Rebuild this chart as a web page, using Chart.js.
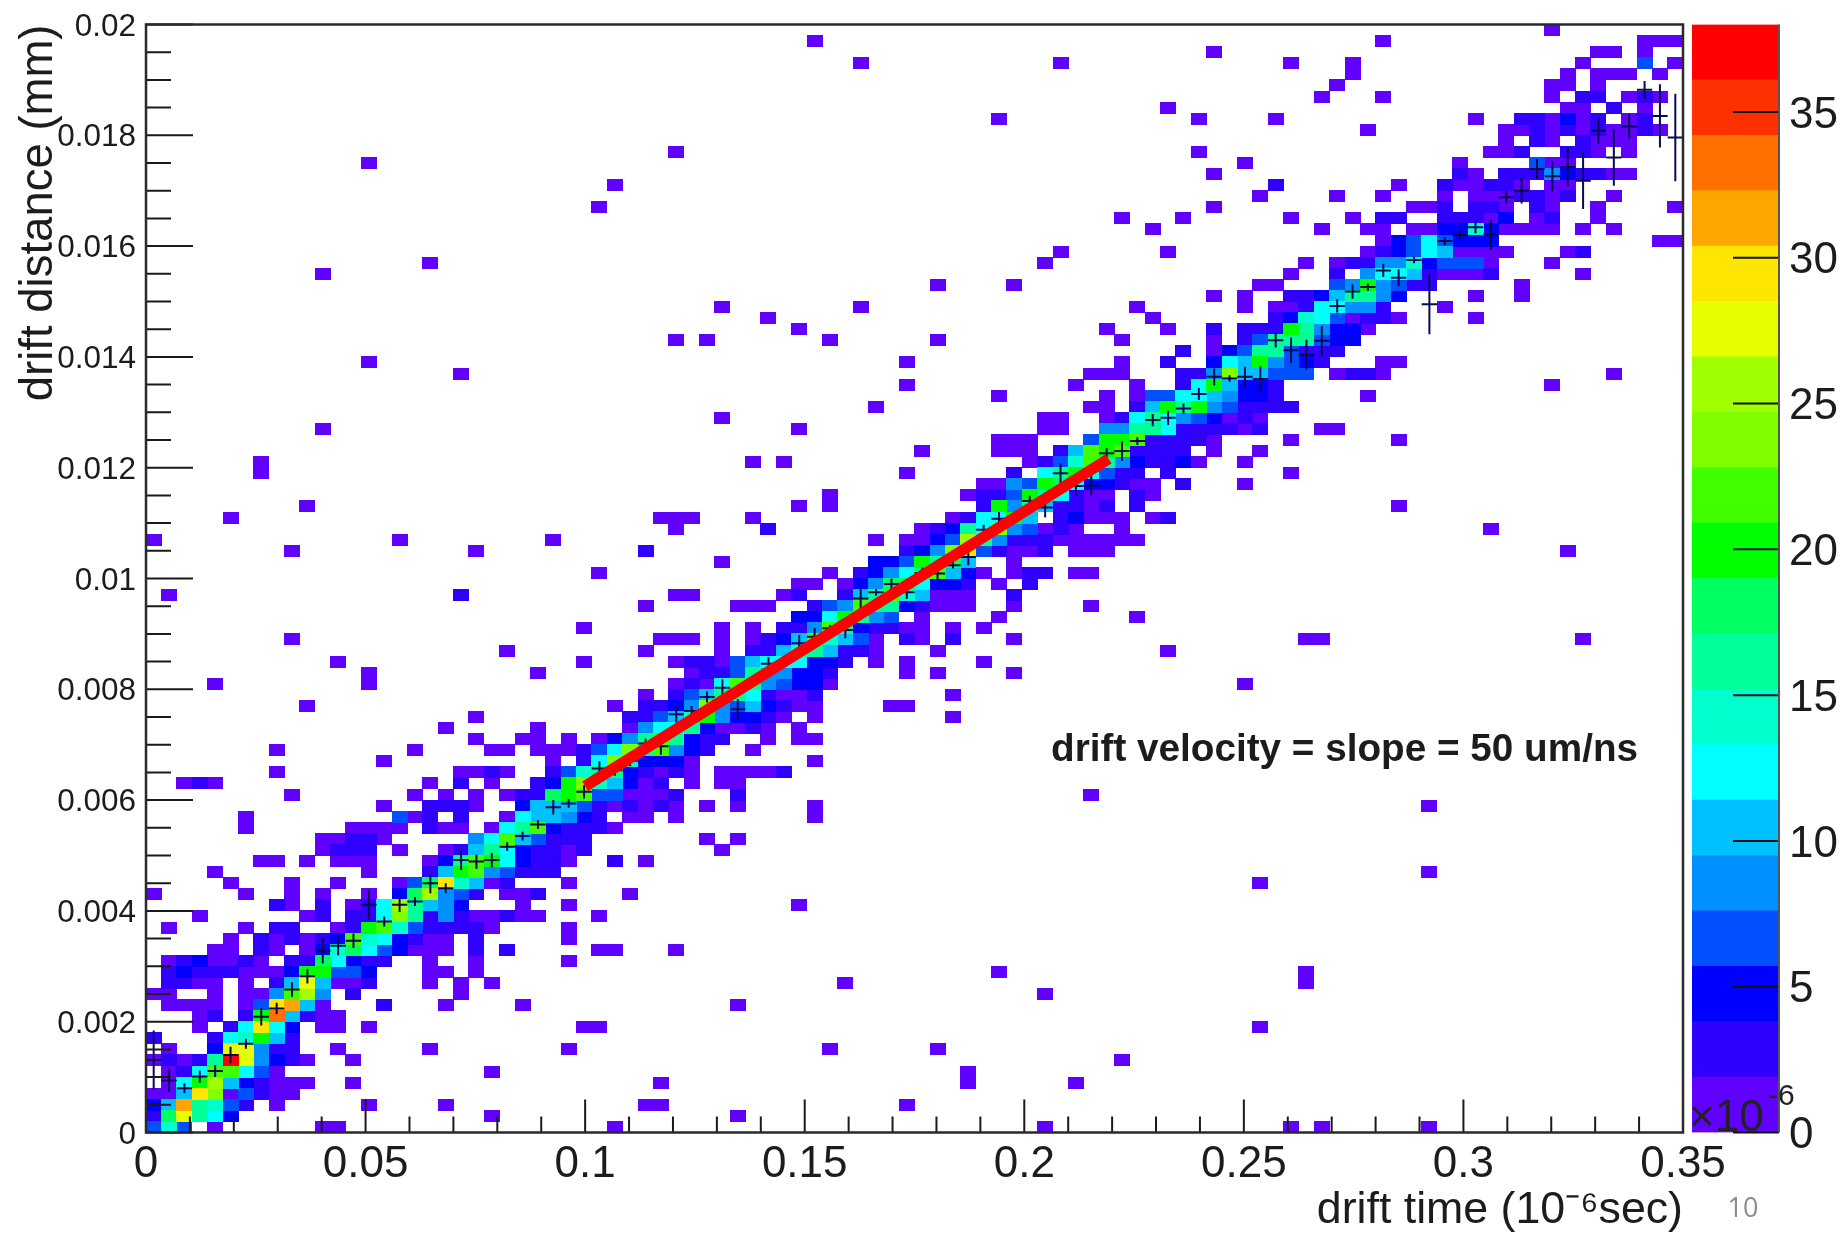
<!DOCTYPE html>
<html>
<head>
<meta charset="utf-8">
<title>drift velocity</title>
<script src="https://cdn.jsdelivr.net/npm/chart.js@4/dist/chart.umd.min.js"></script>
<style>
  html, body { margin: 0; padding: 0; background: #fff; width: 1846px; height: 1237px; overflow: hidden; }
  canvas { position: absolute; top: 0; filter: blur(0.5px); }
  #main { left: 0; }
  #bar { left: 1680px; }
  #pageNo { position: absolute; left: 1723px; top: 1188px; width: 40px; text-align: center;
            font: 27px "Open Sans"; color: #8c8c8c; }
</style>
</head>
<body>
<canvas id="main" width="1846" height="1237"></canvas>
<canvas id="bar" width="166" height="1237"></canvas>
<div id="pageNo">10</div>
<script>
// axis ticks and labels
const xTicks = [0, 0.05, 0.1, 0.15, 0.2, 0.25, 0.3, 0.35];
const xTickLabels = ['0', '0.05', '0.1', '0.15', '0.2', '0.25', '0.3', '0.35'];
const yTicks = [0, 0.002, 0.004, 0.006, 0.008, 0.01, 0.012, 0.014, 0.016, 0.018, 0.02];
const yTickLabels = ['0', '0.002', '0.004', '0.006', '0.008', '0.01', '0.012', '0.014', '0.016', '0.018', '0.02'];
const barTicks = [0, 5, 10, 15, 20, 25, 30, 35];

// 100 x 100 bins
const xBinWidth = 0.0035;
const yBinWidth = 0.0002;

// contour colours, lowest first. One contour is 1.9 counts.
const palette = ['#6000ff', '#3000ff', '#0000ff', '#0050ff', '#0090ff', '#00c0ff', '#00ffff', '#00ffcc', '#00ff99', '#00ff60',
                 '#00ff00', '#40ff00', '#80ff00', '#a0ff00', '#e6ff00', '#ffe600', '#ffa500', '#ff7000', '#ff3000', '#ff0000'];
const contourStep = 1.9;

// filled bins: [row, col, contour, col, contour, ...]
const rows0to24 = [
  [0, 0,3, 1,7, 2,3, 4,0, 11,0, 12,0, 30,0, 58,0, 74,0, 76,0, 83,0],
  [1, 0,1, 1,9, 2,14, 3,8, 4,6, 5,2, 22,0, 38,0],
  [2, 0,2, 1,5, 2,16, 3,8, 4,7, 5,3, 6,1, 8,0, 14,0, 19,0, 32,0, 33,0, 49,0],
  [3, 0,0, 1,0, 2,5, 3,15, 4,12, 5,0, 6,3, 7,1, 8,0, 9,0],
  [4, 1,0, 2,6, 3,10, 4,13, 5,5, 6,2, 7,1, 8,0, 9,0, 10,0, 13,0, 33,0, 53,0, 60,0],
  [5, 1,0, 2,1, 3,6, 4,11, 5,11, 6,6, 7,3, 8,0, 22,0, 53,0],
  [6, 0,0, 1,1, 2,0, 3,1, 4,8, 5,19, 6,14, 7,4, 8,2, 9,1, 10,0, 13,0, 63,0],
  [7, 1,0, 4,2, 5,14, 6,14, 7,4, 8,1, 9,1, 12,0, 18,0, 27,0, 44,0, 51,0],
  [8, 0,1, 4,1, 5,6, 6,7, 7,10, 8,5, 9,1],
  [9, 3,0, 5,1, 6,6, 7,15, 8,6, 9,2, 11,0, 12,0, 14,0, 28,0, 29,0, 72,0],
  [10, 3,0, 4,1, 6,1, 7,10, 8,17, 9,5, 10,1, 11,0, 12,0],
  [11, 1,0, 2,0, 3,0, 4,0, 6,0, 7,3, 8,15, 9,16, 10,5, 11,0, 15,1, 19,0, 24,0, 38,0],
  [12, 0,0, 1,0, 4,0, 6,0, 7,0, 8,4, 9,11, 10,13, 11,4, 13,1, 20,0, 58,0],
  [13, 1,1, 2,1, 3,0, 4,0, 6,0, 8,1, 9,5, 10,14, 11,5, 12,0, 13,0, 14,1, 18,0, 20,0, 22,0, 45,0, 75,0],
  [14, 1,1, 2,2, 3,1, 4,1, 5,1, 6,0, 7,0, 8,0, 9,2, 10,10, 11,10, 12,3, 13,3, 14,2, 18,0, 19,0, 21,0, 55,0, 75,0],
  [15, 1,0, 2,1, 3,2, 4,0, 5,0, 6,1, 7,0, 9,1, 10,1, 11,9, 12,6, 13,2, 14,1, 15,1, 18,0, 21,0, 27,0],
  [16, 4,0, 5,0, 7,1, 8,0, 10,0, 11,2, 12,7, 13,9, 14,6, 15,3, 16,2, 17,0, 18,0, 19,0, 21,1, 23,1, 29,0, 30,0, 34,0],
  [17, 5,0, 7,1, 8,0, 9,1, 10,0, 11,1, 12,2, 13,11, 14,7, 15,6, 16,2, 17,1, 18,0, 19,0, 21,1, 27,0],
  [18, 1,0, 6,0, 8,1, 9,1, 12,0, 13,1, 14,10, 15,11, 16,7, 17,3, 18,1, 19,1, 20,1, 21,1, 22,0, 27,0],
  [19, 3,0, 10,0, 11,1, 13,1, 14,1, 15,6, 16,12, 17,8, 18,1, 19,4, 20,1, 21,0, 22,0, 23,1, 24,0, 25,0, 29,0],
  [20, 8,1, 9,0, 11,1, 13,0, 14,1, 15,6, 16,13, 17,8, 18,5, 19,4, 20,2, 24,0, 27,0, 42,0],
  [21, 0,0, 6,0, 9,0, 11,0, 14,0, 16,2, 17,9, 18,13, 19,4, 20,3, 21,1, 23,0, 24,0, 25,1, 31,0],
  [22, 5,0, 9,0, 12,0, 16,0, 17,3, 18,9, 19,15, 20,7, 21,5, 22,0, 23,1, 27,0, 72,0],
  [23, 4,0, 14,0, 18,1, 19,5, 20,10, 21,11, 22,4, 23,3, 24,1, 25,1, 26,1, 83,0],
  [24, 7,0, 8,0, 10,0, 12,0, 13,0, 14,0, 18,0, 19,2, 20,8, 21,11, 22,10, 23,6, 24,2, 25,1, 26,1, 27,0, 30,1, 32,0]
];
const rows25to49 = [
  [25, 11,0, 12,1, 13,1, 14,1, 16,0, 19,0, 20,1, 21,5, 22,8, 23,6, 24,2, 25,1, 26,1, 27,0, 28,1, 37,0],
  [26, 11,0, 12,0, 13,1, 14,1, 15,0, 21,4, 22,6, 23,11, 24,5, 25,3, 26,1, 27,1, 28,1, 36,0, 38,0],
  [27, 6,0, 13,0, 14,0, 15,0, 16,0, 18,1, 19,0, 20,0, 22,0, 23,6, 24,8, 25,11, 26,2, 27,1, 28,1, 29,1, 30,0],
  [28, 6,0, 16,3, 17,0, 18,1, 20,1, 23,0, 24,6, 25,5, 26,5, 27,4, 28,2, 29,1, 31,0, 32,0, 34,0, 43,0],
  [29, 15,0, 18,1, 19,1, 20,1, 21,0, 24,2, 25,5, 26,5, 27,5, 28,3, 29,1, 30,0, 31,1, 32,0, 33,1, 34,0, 36,0, 38,0, 43,0, 83,0],
  [30, 9,0, 17,0, 19,0, 21,0, 23,0, 24,1, 25,1, 26,9, 27,10, 28,11, 29,3, 30,3, 31,0, 32,0, 33,0, 34,1, 38,1, 61,0],
  [31, 2,0, 3,1, 4,0, 18,0, 20,1, 22,0, 25,1, 26,2, 27,10, 28,12, 29,7, 30,5, 31,2, 32,0, 33,1, 35,0, 37,0, 38,0],
  [32, 8,0, 20,0, 21,0, 22,1, 23,0, 26,1, 27,3, 28,7, 29,8, 30,8, 31,2, 32,1, 33,0, 34,1, 35,0, 37,0, 38,0, 39,0, 40,0, 41,1],
  [33, 15,0, 26,0, 28,1, 29,6, 30,12, 31,7, 32,2, 33,2, 34,2, 35,0, 43,0],
  [34, 8,0, 17,0, 22,0, 23,0, 25,0, 26,0, 27,0, 28,1, 29,3, 30,6, 31,12, 32,8, 33,11, 34,4, 35,2, 36,1, 39,0],
  [35, 21,0, 24,0, 25,0, 27,0, 29,0, 30,2, 31,4, 32,8, 33,11, 34,8, 35,2, 36,1, 37,1, 40,0, 42,0, 43,0],
  [36, 19,0, 25,0, 31,0, 32,4, 33,6, 34,6, 35,8, 36,2, 37,0, 38,0, 39,1, 40,0, 42,0],
  [37, 21,0, 31,1, 32,1, 33,3, 34,5, 35,7, 36,10, 37,4, 38,2, 39,2, 40,1, 41,0, 43,0, 52,0],
  [38, 10,0, 30,0, 32,1, 33,1, 34,2, 35,4, 36,12, 37,4, 38,3, 39,5, 40,2, 41,1, 42,0, 43,0, 48,0, 49,0],
  [39, 32,0, 34,1, 35,3, 36,5, 37,8, 38,8, 39,6, 40,1, 41,0, 42,0, 43,1, 52,0],
  [40, 4,0, 14,0, 34,0, 35,1, 36,0, 37,6, 38,11, 39,8, 40,4, 41,3, 42,2, 43,2, 44,0, 71,0],
  [41, 14,0, 25,0, 35,0, 36,1, 37,1, 38,3, 39,8, 40,4, 41,4, 42,2, 43,2, 44,1, 49,0, 51,0, 56,0],
  [42, 12,0, 28,0, 34,0, 35,1, 36,1, 37,0, 38,3, 39,5, 40,6, 41,6, 42,6, 43,2, 44,2, 45,1, 47,0, 49,0, 54,0],
  [43, 23,0, 32,0, 37,0, 39,1, 40,1, 41,5, 42,7, 43,8, 44,5, 45,1, 46,1, 47,0, 51,0, 66,0],
  [44, 9,0, 33,0, 34,0, 35,0, 37,0, 39,0, 40,1, 41,2, 42,5, 43,11, 44,7, 45,5, 46,3, 47,0, 49,1, 50,0, 52,1, 56,0, 75,0, 76,0, 93,0],
  [45, 28,0, 37,0, 39,0, 41,1, 42,1, 43,4, 44,11, 45,8, 46,2, 47,1, 48,1, 49,0, 50,0, 52,0, 54,0],
  [46, 42,2, 43,2, 44,6, 45,10, 46,8, 47,4, 48,3, 50,0, 55,0, 64,0],
  [47, 32,0, 38,0, 39,0, 40,0, 43,1, 44,3, 45,4, 46,11, 47,8, 48,8, 49,2, 50,1, 51,0, 52,0, 53,0, 56,0, 61,0],
  [48, 1,0, 20,1, 34,0, 35,0, 41,0, 42,1, 45,1, 46,5, 47,8, 48,11, 49,7, 50,5, 51,0, 52,0, 53,0, 56,1],
  [49, 42,0, 43,0, 45,0, 46,2, 47,4, 48,9, 49,9, 50,6, 51,2, 52,2, 53,1, 55,0, 57,1]
];
const rows50to74 = [
  [50, 29,0, 44,0, 46,1, 47,2, 48,4, 49,6, 50,8, 51,11, 52,5, 53,2, 54,0, 56,0, 57,1, 58,1, 60,0, 61,0],
  [51, 37,0, 47,2, 48,2, 49,3, 50,10, 51,8, 52,9, 53,5, 56,0],
  [52, 9,0, 21,0, 32,1, 49,1, 50,2, 51,4, 52,12, 53,15, 54,3, 55,1, 56,0, 57,0, 58,1, 60,0, 61,0, 62,0, 92,0],
  [53, 0,0, 16,0, 26,0, 47,0, 49,0, 50,0, 51,2, 52,3, 53,13, 54,8, 55,4, 56,1, 57,1, 58,1, 59,0, 60,0, 61,0, 62,0, 63,0, 64,0],
  [54, 34,0, 40,1, 50,0, 51,1, 52,2, 53,8, 54,6, 55,12, 56,4, 57,3, 58,0, 59,1, 60,0, 63,0, 87,0],
  [55, 5,0, 33,0, 34,0, 35,0, 39,0, 52,0, 53,1, 54,6, 55,6, 56,10, 57,5, 59,1, 60,2, 61,0, 62,0, 63,0, 65,0, 66,1],
  [56, 10,0, 42,0, 44,0, 54,1, 55,10, 56,4, 57,8, 58,5, 59,1, 60,1, 61,0, 62,1, 64,1, 81,0],
  [57, 44,0, 53,0, 54,1, 55,1, 56,3, 57,10, 58,8, 59,6, 60,1, 61,0, 62,0, 64,1, 65,0],
  [58, 54,0, 55,0, 56,4, 57,3, 58,10, 59,9, 60,6, 61,2, 62,2, 63,1, 64,0, 65,0, 67,1, 71,0],
  [59, 7,0, 49,0, 56,1, 58,6, 59,8, 60,10, 61,6, 62,3, 63,1, 64,1, 66,1, 74,0],
  [60, 7,0, 39,0, 41,0, 57,0, 58,1, 59,3, 60,7, 61,11, 62,8, 63,4, 64,2, 65,1, 66,1, 67,2, 68,0, 71,0],
  [61, 50,0, 55,0, 56,0, 57,0, 59,1, 60,5, 61,11, 62,10, 63,11, 64,1, 65,1, 66,1, 67,1, 69,0, 72,0],
  [62, 55,0, 56,0, 57,0, 61,3, 62,10, 63,10, 64,11, 65,1, 66,1, 67,1, 68,1, 69,0, 74,0, 81,0],
  [63, 11,0, 42,0, 58,0, 59,0, 62,4, 63,4, 64,8, 65,8, 66,6, 67,1, 68,1, 69,1, 70,1, 71,0, 72,1, 76,0, 77,0],
  [64, 37,0, 58,0, 59,0, 62,0, 63,1, 64,6, 65,8, 66,6, 67,4, 68,3, 69,2, 70,0, 71,1, 72,0],
  [65, 47,0, 61,0, 62,0, 64,1, 65,5, 66,10, 67,8, 68,10, 69,4, 70,3, 71,1, 72,1, 73,1, 74,1],
  [66, 55,0, 62,0, 64,0, 65,3, 66,3, 67,6, 68,6, 69,5, 70,4, 71,2, 72,2, 73,1, 79,0],
  [67, 49,0, 60,0, 64,0, 67,1, 68,6, 69,10, 70,5, 71,2, 72,2, 73,1, 91,0],
  [68, 20,0, 61,0, 62,0, 63,0, 67,1, 68,1, 69,4, 70,12, 71,5, 72,5, 73,3, 74,3, 75,3, 77,0, 78,1, 79,1, 80,0, 95,0],
  [69, 14,0, 49,0, 63,0, 66,1, 69,2, 70,6, 71,5, 72,10, 73,4, 74,3, 75,2, 76,1, 80,0, 81,0],
  [70, 67,1, 69,0, 70,2, 71,3, 72,8, 73,8, 74,3, 75,1, 76,1, 77,1],
  [71, 34,0, 36,0, 44,0, 51,0, 63,0, 69,0, 71,1, 72,3, 73,8, 74,8, 75,8, 76,3, 77,2, 78,2],
  [72, 42,0, 62,0, 66,0, 69,1, 71,1, 72,1, 73,1, 74,10, 75,8, 76,4, 77,2, 78,2, 79,0],
  [73, 40,0, 65,0, 73,1, 74,2, 75,7, 76,6, 77,3, 78,0, 79,1, 80,1, 81,0, 86,0],
  [74, 37,0, 46,0, 64,0, 71,0, 73,0, 74,0, 75,1, 76,6, 77,6, 78,4, 79,4, 80,1, 84,0]
];
const rows75to99 = [
  [75, 69,0, 71,0, 74,1, 75,1, 76,2, 77,5, 78,8, 79,8, 80,4, 81,2, 86,0, 89,0],
  [76, 51,0, 56,0, 72,0, 73,0, 77,3, 78,4, 79,10, 80,4, 81,3, 82,1, 83,1, 89,0],
  [77, 11,0, 74,0, 77,1, 79,4, 80,6, 81,6, 82,5, 83,1, 84,0, 85,0, 86,0, 87,1, 93,0],
  [78, 18,0, 58,0, 75,0, 77,0, 78,1, 79,1, 80,4, 81,4, 82,7, 83,2, 84,3, 85,3, 86,3, 87,0, 91,0],
  [79, 59,0, 66,0, 79,0, 80,1, 81,2, 82,3, 83,6, 84,5, 85,0, 86,0, 87,0, 88,0, 92,0, 93,1],
  [80, 80,0, 81,2, 82,3, 83,6, 84,3, 85,2, 86,2, 87,2, 98,0, 99,0],
  [81, 65,0, 76,0, 79,0, 80,0, 82,0, 83,0, 84,2, 85,2, 86,7, 87,2, 88,0, 89,0, 90,0, 91,0, 93,0, 95,0],
  [82, 63,0, 67,0, 74,0, 78,0, 80,1, 81,1, 84,1, 85,1, 86,1, 87,0, 88,2, 90,0, 91,1, 94,0],
  [83, 29,0, 69,0, 82,0, 83,0, 84,1, 86,1, 87,1, 88,0, 90,1, 91,0, 94,0, 99,0],
  [84, 72,0, 77,0, 80,0, 84,0, 86,0, 87,0, 88,0, 89,1, 90,1, 91,0, 92,1, 95,0],
  [85, 30,0, 73,1, 81,0, 84,1, 85,0, 86,0, 87,1, 88,1, 89,0, 91,0, 92,0],
  [86, 69,0, 85,1, 86,0, 88,1, 89,1, 90,1, 91,4, 92,2, 93,1, 94,1, 95,0, 96,0],
  [87, 14,0, 71,0, 85,0, 90,3, 91,0, 92,0],
  [88, 34,0, 68,0, 87,0, 88,0, 89,1, 92,1, 93,1, 94,0, 96,0],
  [89, 88,0, 90,1, 91,0, 93,1, 94,0, 95,0, 96,0],
  [90, 79,0, 88,0, 89,0, 90,1, 91,0, 92,1, 93,0, 94,1, 95,0, 96,0, 97,1, 98,0],
  [91, 55,0, 68,0, 73,0, 86,0, 89,1, 90,1, 91,0, 92,2, 93,0, 94,1, 96,0, 97,1],
  [92, 66,0, 92,0, 93,0, 95,1, 97,0],
  [93, 76,0, 80,0, 91,0, 93,1, 94,1, 96,0, 97,1, 98,0],
  [94, 77,0, 91,0, 92,0, 94,0],
  [95, 78,0, 92,0, 94,0, 95,0, 96,0, 98,0],
  [96, 46,0, 59,0, 74,0, 78,0, 93,0, 97,3, 99,0],
  [97, 69,0, 94,0, 95,0, 97,0],
  [98, 43,0, 80,0, 97,0, 98,0, 99,0],
  [99, 91,0]
];

// profile of the histogram, one value per column
const profileMeans = [
  0.00131, 0.00094, 0.0008, 0.00101, 0.00111, 0.0014, 0.0016, 0.00209, 0.00224, 0.00258,
  0.00282, 0.00328, 0.00337, 0.00346, 0.00411, 0.00381, 0.00411, 0.00417, 0.0045, 0.00441,
  0.00492, 0.00489, 0.00492, 0.00516, 0.00535, 0.00556, 0.00587, 0.00594, 0.00615, 0.00657,
  0.00654, 0.00671, 0.00702, 0.00697, 0.00755, 0.00761, 0.00786, 0.00803, 0.00764, 0.00815,
  0.00846, 0.0085, 0.00883, 0.00895, 0.0091, 0.00907, 0.00964, 0.00975, 0.0099, 0.00975,
  0.0101, 0.01009, 0.01024, 0.01039, 0.01088, 0.01108, 0.0111, 0.0114, 0.01128, 0.0119,
  0.01167, 0.01168, 0.01226, 0.0123, 0.01248, 0.01286, 0.0129, 0.01307, 0.01333, 0.01364,
  0.01361, 0.01364, 0.0136, 0.0143, 0.01412, 0.01404, 0.01429, 0.01492, 0.01518, 0.01526,
  0.01556, 0.01543, 0.01575, 0.01495, 0.01609, 0.0162, 0.01634, 0.01621, 0.01688, 0.017,
  0.01739, 0.01726, 0.01743, 0.01718, 0.01808, 0.0176, 0.01816, 0.01882, 0.01835, 0.01796
];
const profileErrors = [
  0.00053, 0.00021, 0.00009, 0.00011, 0.00011, 0.00015, 0.00009, 0.00016, 0.0001, 0.00013,
  0.00013, 0.00023, 0.00017, 0.00013, 0.00027, 0.00009, 0.00013, 0.00008, 0.00018, 0.00009,
  0.00018, 0.00013, 0.00013, 0.00008, 0.00008, 0.00008, 0.00013, 0.00008, 0.00012, 0.00013,
  0.0001, 0.0001, 0.00009, 0.00015, 0.00015, 0.00009, 0.0001, 0.00015, 0.00018, 0.0001,
  0.00012, 0.0001, 0.00015, 0.00015, 0.00006, 0.00015, 0.00018, 0.00006, 0.0001, 0.00012,
  0.0001, 0.00012, 0.00006, 0.00015, 0.00009, 0.00012, 0.0001, 0.0001, 0.00018, 0.00018,
  0.00017, 0.00018, 0.00009, 0.00018, 0.00007, 0.00011, 0.00013, 0.00009, 0.00011, 0.00015,
  0.00006, 0.00018, 0.00023, 0.00013, 0.00023, 0.00027, 0.00027, 0.00012, 0.00013, 0.00007,
  0.00012, 0.00015, 0.00006, 0.00054, 0.00007, 0.00009, 0.00011, 0.00027, 0.00011, 0.00023,
  0.00018, 0.00027, 0.00035, 0.00051, 0.00023, 0.00051, 0.00022, 0.00016, 0.00057, 0.00079
];

// straight line fit
const fitTimes = [0.1, 0.2192];
const fitDistances = [0.00625, 0.01216];

const annotationText = 'drift velocity = slope = 50 um/ns';

const FONT = '"Liberation Sans"';
const TEXT_COLOR = '#1c1c1c';

function makeCell(color) {
    const c = document.createElement('canvas');
    c.width = 16;
    c.height = 12;
    const g = c.getContext('2d');
    g.fillStyle = color;
    g.fillRect(0, 0, 16, 12);
    return c;
}

// canvas "middle" sits a bit above the digit centres, push the labels down
function nudgeLabels(scale, dy) {
    if (scale.nudged) return;
    scale.nudged = true;
    const drawLabels = scale.drawLabels;
    scale.drawLabels = function (area) {
        this.ctx.save();
        this.ctx.translate(0, dy);
        drawLabels.call(this, area);
        this.ctx.restore();
    };
}

// one point list per contour
const contourPoints = palette.map(() => []);
[...rows0to24, ...rows25to49, ...rows50to74, ...rows75to99].forEach(r => {
    for (let i = 1; i < r.length; i += 2) {
        contourPoints[r[i + 1]].push({ x: (r[i] + 0.5) * xBinWidth, y: (r[0] + 0.5) * yBinWidth });
    }
});

const cellDatasets = palette.map((color, level) => ({
    type: 'scatter',
    label: 'contour' + level,
    data: contourPoints[level],
    pointStyle: makeCell(color),
    pointRadius: 8,
    order: 100 - level
}));

const rootStyle = {
    id: 'rootStyle',
    // crosses go under the red line, so they are drawn right after their own dataset
    afterDatasetDraw(chart, args) {
        if (chart.data.datasets[args.index].label !== 'profile') return;
        const { ctx, scales: { x, y } } = chart;
        ctx.save();
        ctx.strokeStyle = '#0a0a50';
        ctx.lineWidth = 2;
        profileMeans.forEach((m, i) => {
            const t = (i + 0.5) * xBinWidth;
            ctx.beginPath();
            ctx.moveTo(x.getPixelForValue(t - xBinWidth / 2), y.getPixelForValue(m));
            ctx.lineTo(x.getPixelForValue(t + xBinWidth / 2), y.getPixelForValue(m));
            ctx.moveTo(x.getPixelForValue(t), y.getPixelForValue(m - profileErrors[i]));
            ctx.lineTo(x.getPixelForValue(t), y.getPixelForValue(m + profileErrors[i]));
            ctx.stroke();
        });
        ctx.restore();
    },
    afterDatasetsDraw(chart) {
        const { ctx, chartArea: a, scales: { x, y } } = chart;
        ctx.save();
        ctx.strokeStyle = '#1a1a1a';
        ctx.lineWidth = 2;
        // inner ticks, major and minor
        ctx.beginPath();
        for (let i = 0; i <= 35; i++) {
            const px = x.getPixelForValue(i * 0.01);
            ctx.moveTo(px, a.bottom);
            ctx.lineTo(px, a.bottom - (i % 5 === 0 ? 33 : 16));
        }
        for (let i = 0; i <= 40; i++) {
            const py = y.getPixelForValue(i * 0.0005);
            ctx.moveTo(a.left, py);
            ctx.lineTo(a.left + (i % 4 === 0 ? 47 : 25), py);
        }
        ctx.stroke();
        ctx.strokeStyle = '#2a2a2a';
        ctx.lineWidth = 2.5;
        ctx.strokeRect(a.left, a.top, a.right - a.left, a.bottom - a.top);
        ctx.fillStyle = TEXT_COLOR;
        ctx.font = 'bold 38.7px ' + FONT;
        ctx.textAlign = 'left';
        ctx.textBaseline = 'middle';
        ctx.fillText(annotationText, x.getPixelForValue(0.2061), y.getPixelForValue(0.0069));
        ctx.restore();
    }
};

new Chart(document.getElementById('main'), {
    data: {
        datasets: [
            { type: 'line', label: 'fit', data: fitTimes.map((t, i) => ({ x: t, y: fitDistances[i] })),
              borderColor: '#ff0000', borderWidth: 11, pointRadius: 0, order: 0 },
            { type: 'scatter', label: 'profile', data: profileMeans.map((m, i) => ({ x: (i + 0.5) * xBinWidth, y: m })),
              pointRadius: 0, order: 1 },
            ...cellDatasets
        ]
    },
    options: {
        responsive: false,
        animation: false,
        events: [],
        layout: { padding: { top: 24.5, right: 163, left: 0, bottom: 0 } },
        plugins: { legend: { display: false }, tooltip: { enabled: false } },
        scales: {
            x: {
                type: 'linear', min: 0, max: 0.35,
                grid: { display: false, drawTicks: false },
                border: { display: false },
                afterBuildTicks: s => { s.ticks = xTicks.map(v => ({ value: v })); },
                afterFit: s => { s.height = 104.5; s.paddingLeft = 0; s.paddingRight = 0; },
                ticks: {
                    autoSkip: false, maxRotation: 0, padding: 6, color: TEXT_COLOR,
                    font: { family: FONT, size: 44 },
                    callback: (v, i) => xTickLabels[i]
                },
                title: { display: true, text: 'drift time (10⁻⁶sec)', align: 'end', color: TEXT_COLOR,
                         font: { family: FONT, size: 44.7 }, padding: 0 }
            },
            y: {
                type: 'linear', min: 0, max: 0.02,
                grid: { display: false, drawTicks: false },
                border: { display: false },
                afterBuildTicks: s => { s.ticks = yTicks.map(v => ({ value: v })); },
                afterFit: s => { s.width = 146; s.paddingTop = 0; s.paddingBottom = 0; nudgeLabels(s, 2.5); },
                ticks: {
                    autoSkip: false, padding: 10, color: TEXT_COLOR,
                    font: { family: FONT, size: 31.5 },
                    callback: (v, i) => yTickLabels[i]
                },
                title: { display: true, text: 'drift distance (mm)', align: 'end', color: TEXT_COLOR,
                         font: { family: FONT, size: 45.5 }, padding: { top: 12, bottom: 0 } }
            }
        }
    },
    plugins: [rootStyle]
});

const barStyle = {
    id: 'barStyle',
    afterDraw(chart) {
        const { ctx, chartArea: a, scales: { y } } = chart;
        ctx.save();
        ctx.strokeStyle = '#111';
        ctx.lineWidth = 2;
        ctx.beginPath();
        barTicks.forEach(v => {
            ctx.moveTo(a.right, y.getPixelForValue(v));
            ctx.lineTo(a.right - 46, y.getPixelForValue(v));
        });
        ctx.stroke();
        ctx.strokeStyle = '#555';
        ctx.beginPath();
        ctx.moveTo(a.right, a.top);
        ctx.lineTo(a.right, a.bottom);
        ctx.stroke();
        // exponent of the colour scale sits over the bar
        ctx.fillStyle = '#222';
        ctx.textBaseline = 'alphabetic';
        ctx.font = '44px ' + FONT;
        ctx.fillText('×10', 9, 1131);
        ctx.font = '30px ' + FONT;
        ctx.fillText('-6', 88, 1105);
        ctx.restore();
    }
};

new Chart(document.getElementById('bar'), {
    type: 'bar',
    data: {
        labels: [''],
        datasets: palette.map(color => ({
            data: [contourStep],
            backgroundColor: color,
            barPercentage: 1,
            categoryPercentage: 1
        }))
    },
    options: {
        responsive: false,
        animation: false,
        events: [],
        layout: { padding: { top: 24.5, bottom: 104.5, left: 12, right: 0 } },
        plugins: { legend: { display: false }, tooltip: { enabled: false } },
        scales: {
            x: { stacked: true, display: false },
            y: {
                stacked: true, position: 'right', min: 0, max: 38,
                grid: { display: false, drawTicks: false },
                border: { display: false },
                afterBuildTicks: s => { s.ticks = barTicks.map(v => ({ value: v })); },
                afterFit: s => { s.width = 67; s.paddingTop = 0; s.paddingBottom = 0; nudgeLabels(s, 3.5); },
                ticks: { autoSkip: false, padding: 10, color: TEXT_COLOR, font: { family: FONT, size: 44 } }
            }
        }
    },
    plugins: [barStyle]
});
</script>
</body>
</html>
